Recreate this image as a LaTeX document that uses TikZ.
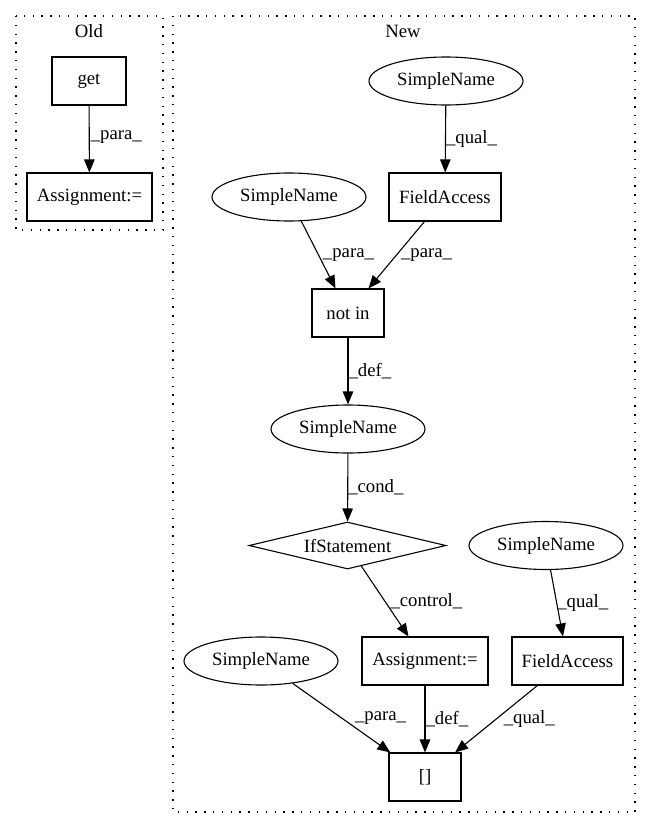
\documentclass[tikz,border=0pt]{standalone}
\usepackage{fontspec}
\setmainfont{Liberation Serif}
\usetikzlibrary{shapes.geometric,arrows.meta}
\begin{document}
\begin{tikzpicture}[x=1bp,y=-1bp,
  every node/.style={font=\fontsize{18.8}{22}\selectfont},
  box/.style={draw, rectangle, minimum height=48bp, inner sep=0pt, line width=1.1bp},
  ell/.style={draw, ellipse, minimum width=154bp, minimum height=48bp, inner sep=0pt, line width=1.1bp},
  dia/.style={draw, diamond, aspect=4.19, minimum width=197bp, minimum height=47bp, inner sep=0pt, line width=1.1bp},
  conn/.style={-{Triangle[length=13bp,width=10.5bp]}, line width=1.1bp},
  lab/.style={anchor=west, inner sep=0pt},
  cluster/.style={draw, line width=1.2bp, dash pattern=on 1.3bp off 7.5bp}
]
\useasboundingbox (0,0) rectangle (651,828);

% clusters
\draw[cluster] (16,16) rectangle (163,230);
\node (oldlab) at (89,31) {Old};
\draw[cluster] (173,16) rectangle (635,812);
\node (newlab) at (403,31) {New};

% Old
\node[box, minimum width=74bp] (get) at (89,81) {get};
\node[box, minimum width=125bp] (asg1) at (89.5,197) {Assignment:=};

% New
\node[ell] (snTop) at (446,81) {SimpleName};
\node[box, minimum width=112bp] (fa1) at (445,197) {FieldAccess};
\node[ell] (snLeft) at (289,197) {SimpleName};
\node[box, minimum width=72bp] (notin) at (348,313) {not in};
\node[ell] (snMid) at (348,429) {SimpleName};
\node[dia] (ifs) at (347.5,545.5) {IfStatement};
\node[ell] (snRight) at (546,545.5) {SimpleName};
\node[box, minimum width=126bp] (asg2) at (425,661) {Assignment:=};
\node[box, minimum width=111bp] (fa2) at (567.5,661) {FieldAccess};
\node[ell] (snBL) at (261,661) {SimpleName};
\node[box, minimum width=72bp] (idx) at (425,777) {[]};

% edges
\draw[conn] (get) -- node[lab, xshift=1bp, yshift=2bp] {\_para\_} (asg1);
\draw[conn] (snTop) -- node[lab] {\_qual\_} (fa1);
\draw[conn] (snLeft) -- node[lab, xshift=4bp] {\_para\_} (notin);
\draw[conn] (fa1) -- node[lab, xshift=4bp] {\_para\_} (notin);
\draw[conn] (notin) -- node[lab] {\_def\_} (snMid);
\draw[conn] (snMid) -- node[lab] {\_cond\_} (ifs);
\draw[conn] (ifs) -- node[lab, xshift=5bp] {\_control\_} (asg2);
\draw[conn] (snRight) -- node[lab] {\_qual\_} (fa2);
\draw[conn] (snBL) -- node[lab, xshift=13bp] {\_para\_} (idx);
\draw[conn] (asg2) -- node[lab] {\_def\_} (idx);
\draw[conn] (fa2) -- node[lab, xshift=7bp] {\_qual\_} (idx);
\end{tikzpicture}
\end{document}
